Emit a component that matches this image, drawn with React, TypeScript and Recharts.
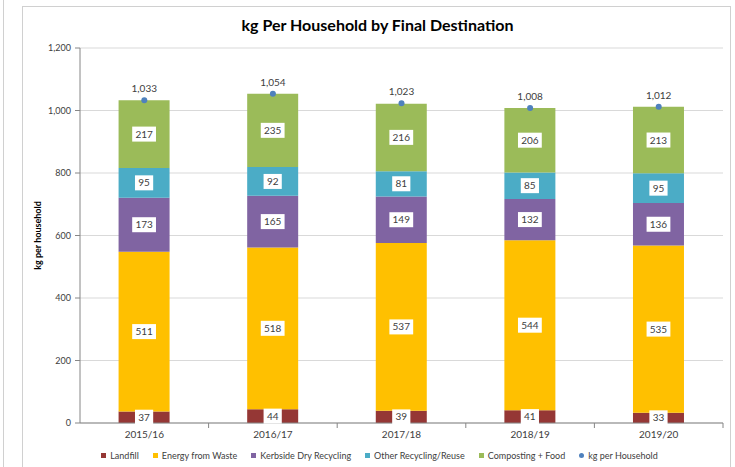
import React from 'react';
import { ComposedChart, Bar, Line, XAxis, YAxis, CartesianGrid, LabelList, Legend } from 'recharts';

const categories = ['2015/16', '2016/17', '2017/18', '2018/19', '2019/20'];
const landfill = [37, 44, 39, 41, 33];
const energyFromWaste = [511, 518, 537, 544, 535];
const kerbsideDry = [173, 165, 149, 132, 136];
const otherRecycling = [95, 92, 81, 85, 95];
const composting = [217, 235, 216, 206, 213];
const totals = [1033, 1054, 1023, 1008, 1012];
const yTicks = [0, 200, 400, 600, 800, 1000, 1200];

const COLORS = {
  landfill: '#953735',
  efw: '#FFC000',
  kerb: '#8064A2',
  other: '#4BACC6',
  comp: '#9BBB59',
  total: '#4F81BD',
};

const legendItems = [
  { label: 'Landfill', color: COLORS.landfill, shape: 'square' },
  { label: 'Energy from Waste', color: COLORS.efw, shape: 'square' },
  { label: 'Kerbside Dry Recycling', color: COLORS.kerb, shape: 'square' },
  { label: 'Other Recycling/Reuse', color: COLORS.other, shape: 'square' },
  { label: 'Composting + Food', color: COLORS.comp, shape: 'square' },
  { label: 'kg per Household', color: COLORS.total, shape: 'circle' },
];

const data = categories.map((c, i) => ({
  cat: c,
  landfill: landfill[i],
  efw: energyFromWaste[i],
  kerb: kerbsideDry[i],
  other: otherRecycling[i],
  comp: composting[i],
  total: totals[i],
}));

const FONT = 'Lato, "Open Sans", sans-serif';
const fmt = (v: number) => v.toLocaleString('en-US');

const BoxLabel = (props: any) => {
  const { x, y, width, height, value } = props;
  const s = String(value);
  const w = s.length * 5.6 + 7;
  const h = 15;
  const cx = x + width / 2;
  const cy = y + height / 2;
  return (
    <g>
      <rect x={cx - w / 2} y={cy - h / 2} width={w} height={h} fill="#ffffff" />
      <text x={cx} y={cy} dy="0.35em" textAnchor="middle" fontSize={10} fontFamily={FONT} fill="#404040">
        {s}
      </text>
    </g>
  );
};

const XTick = (props: any) => {
  const { x, y, payload } = props;
  const off = payload.offset || 0;
  return (
    <g>
      <line x1={x + off} x2={x + off} y1={y - 8} y2={y - 3} stroke="#868686" />
      <text x={x} y={y} dy="0.71em" textAnchor="middle" fontSize={10} fontFamily={FONT} fill="#404040">
        {payload.value}
      </text>
    </g>
  );
};

const LegendContent = () => (
  <div
    style={{
      display: 'flex',
      justifyContent: 'center',
      gap: 14,
      fontFamily: FONT,
      fontSize: 9,
      color: '#404040',
      paddingLeft: 24,
    }}
  >
    {legendItems.map((it) => (
      <div key={it.label} style={{ display: 'flex', alignItems: 'center' }}>
        <span
          style={{
            display: 'inline-block',
            width: 5,
            height: 5,
            background: it.color,
            borderRadius: it.shape === 'circle' ? '50%' : 0,
            marginRight: 4,
          }}
        />
        <span>{it.label}</span>
      </div>
    ))}
  </div>
);

export default function App() {
  return (
    <div style={{ position: 'absolute', left: 0, top: 0, width: 735, height: 467, background: '#fff', overflow: 'hidden' }}>
      <div style={{ position: 'absolute', left: 3, top: 0, width: 1, height: 467, background: '#d0d0d0' }} />
      <div
        style={{
          position: 'absolute',
          left: 22,
          top: 6,
          width: 709,
          height: 480,
          border: '1px solid #d0d0d0',
          boxSizing: 'border-box',
        }}
      />
      <div
        style={{
          position: 'absolute',
          left: 0,
          width: 735,
          top: 15,
          textAlign: 'center',
          fontFamily: FONT,
          fontWeight: 700,
          fontSize: 16,
          color: '#000',
          paddingLeft: 20,
          boxSizing: 'border-box',
        }}
      >
        kg Per Household by Final Destination
      </div>
      <ComposedChart
        width={735}
        height={467}
        data={data}
        margin={{ top: 48, right: 12, bottom: 14, left: 0 }}
        barCategoryGap="30%"
      >
        <CartesianGrid vertical={false} stroke="#d9d9d9" />
        <XAxis
          dataKey="cat"
          height={30}
          tickLine={false}
          axisLine={{ stroke: '#868686' }}
          tick={<XTick />}
          tickSize={5}
          tickMargin={3}
          interval={0}
        />
        <YAxis
          width={80}
          domain={[0, 1200]}
          ticks={yTicks}
          tickFormatter={fmt}
          axisLine={{ stroke: '#868686' }}
          tickLine={{ stroke: '#868686' }}
          tickSize={5}
          tickMargin={4}
          tick={{ fontSize: 9, fontFamily: FONT, fill: '#404040' }}
          label={{
            content: (p: any) => {
              const vb = p.viewBox;
              const cx = 41;
              const cy = vb.y + vb.height / 2;
              return (
                <text
                  x={cx}
                  y={cy}
                  transform={`rotate(-90, ${cx}, ${cy})`}
                  textAnchor="middle"
                  fontSize={9}
                  fontWeight={700}
                  fontFamily={FONT}
                  fill="#000"
                >
                  kg per household
                </text>
              );
            },
          }}
        />
        <Bar dataKey="landfill" stackId="a" fill={COLORS.landfill} isAnimationActive={false}>
          <LabelList dataKey="landfill" content={<BoxLabel />} />
        </Bar>
        <Bar dataKey="efw" stackId="a" fill={COLORS.efw} isAnimationActive={false}>
          <LabelList dataKey="efw" content={<BoxLabel />} />
        </Bar>
        <Bar dataKey="kerb" stackId="a" fill={COLORS.kerb} isAnimationActive={false}>
          <LabelList dataKey="kerb" content={<BoxLabel />} />
        </Bar>
        <Bar dataKey="other" stackId="a" fill={COLORS.other} isAnimationActive={false}>
          <LabelList dataKey="other" content={<BoxLabel />} />
        </Bar>
        <Bar dataKey="comp" stackId="a" fill={COLORS.comp} isAnimationActive={false}>
          <LabelList dataKey="comp" content={<BoxLabel />} />
        </Bar>
        <Line
          dataKey="total"
          stroke="none"
          dot={{ r: 3, fill: COLORS.total, stroke: COLORS.total, strokeWidth: 0 }}
          activeDot={false}
          isAnimationActive={false}
        >
          <LabelList
            dataKey="total"
            position="top"
            offset={8}
            formatter={(v: any) => fmt(Number(v))}
            style={{ fontSize: 10, fontFamily: FONT, fill: '#404040' }}
          />
        </Line>
        <Legend
          layout="horizontal"
          verticalAlign="middle"
          align="center"
          wrapperStyle={{ position: 'absolute', top: 450, left: 0, width: 735 }}
          content={<LegendContent />}
        />
      </ComposedChart>
    </div>
  );
}
